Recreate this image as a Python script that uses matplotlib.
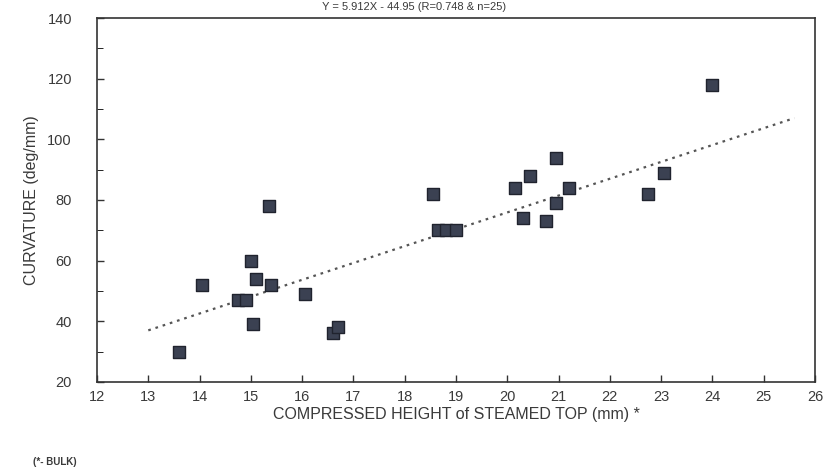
import matplotlib.pyplot as plt

# compressed height of steamed top (mm) vs curvature (deg/mm)
height = [13.6, 14.05, 14.75, 14.9, 15.0, 15.05, 15.1, 15.35, 15.4, 16.05,
          16.6, 16.7, 18.55, 18.65, 18.8, 19.0, 20.15, 20.3, 20.45, 20.75,
          20.95, 20.95, 21.2, 22.75, 23.05, 24.0]
curvature = [30, 52, 47, 47, 60, 39, 54, 78, 52, 49,
             36, 38, 82, 70, 70, 70, 84, 74, 88, 73,
             94, 79, 84, 82, 89, 118]

# regression line as drawn (end points)
trend_x = [13.0, 25.6]
trend_y = [37.0, 107.0]

x_ticks = list(range(12, 27))
y_ticks = [20, 40, 60, 80, 100, 120, 140]

plt.rcParams["font.family"] = ["Liberation Sans", "DejaVu Sans"]
text_col = "#3a3a3a"

fig = plt.figure(figsize=(8.29, 4.75), dpi=100)
ax = fig.add_axes([0.117, 0.196, 0.866, 0.766])

ax.plot(trend_x, trend_y, linestyle=(0, (1.2, 2.2)), color="#555555", linewidth=1.6)
ax.scatter(height, curvature, marker="s", s=78, facecolor="#3b4152",
           edgecolor="#20232e", linewidth=1.0, zorder=3)

ax.set_xlim(12, 26)
ax.set_ylim(20, 140)
ax.set_xticks(x_ticks)
ax.set_yticks(y_ticks)
ax.set_yticks(range(30, 140, 20), minor=True)
ax.tick_params(axis="both", direction="in", length=5, width=1, colors="#333333",
               labelcolor=text_col, labelsize=10.5)
ax.tick_params(axis="y", which="minor", direction="in", length=4)
ax.tick_params(axis="y", pad=18)
ax.tick_params(axis="x", pad=6)
for sp in ax.spines.values():
    sp.set_color("#333333")
    sp.set_linewidth(1.2)

ax.set_xlabel("COMPRESSED HEIGHT of STEAMED TOP (mm) *", fontsize=11.5,
              color=text_col, labelpad=2)
ax.set_ylabel("CURVATURE (deg/mm)", fontsize=11.5, color=text_col, labelpad=6)

fig.text(0.5, 0.985, "Y = 5.912X - 44.95 (R=0.748 & n=25)", ha="center",
         va="center", fontsize=8, color=text_col)
fig.text(0.066, 0.027, "(*- BULK)", ha="center", va="center", fontsize=7,
         color=text_col, fontweight="bold")

fig.savefig("out.png", dpi=100)
